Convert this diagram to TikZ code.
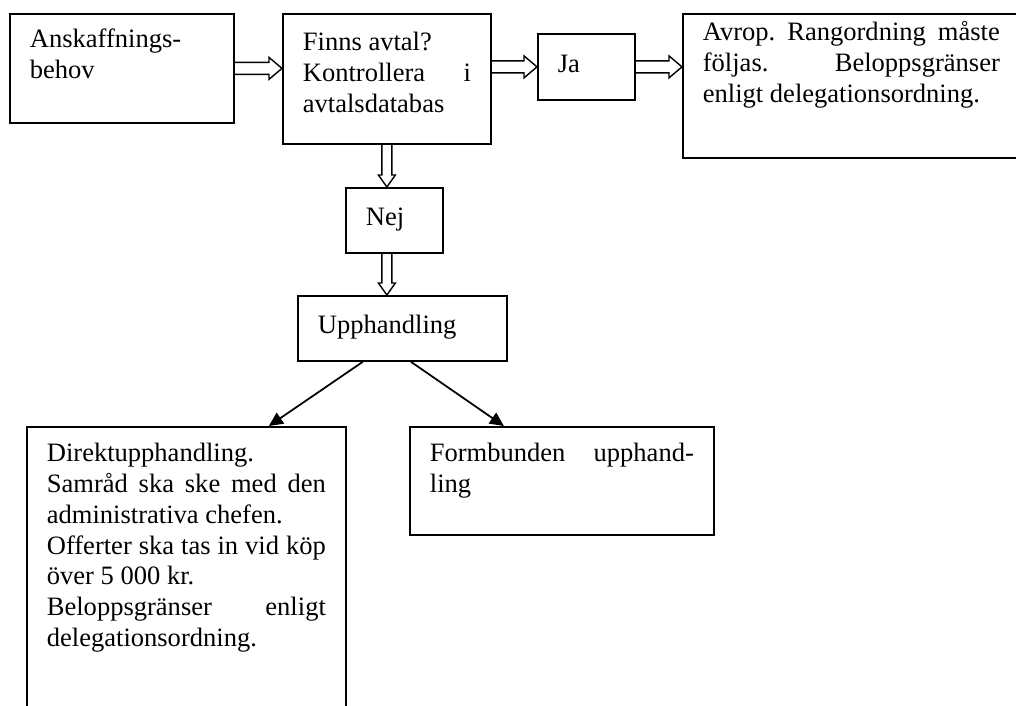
\documentclass[tikz,border=0pt]{standalone}
\usepackage{fontspec}
\setmainfont{Liberation Serif}
\usetikzlibrary{arrows.meta, calc}

\tikzset{
  box/.style={draw, line width=1pt, anchor=north west, inner xsep=0.4cm, inner ysep=0pt, align=justify},
  harrow/.style={line width=0.8pt, to path={
      ($(\tikztostart)+(0,0.12)$) -- ($(\tikztotarget)+(-0.26,0.12)$) -- ($(\tikztotarget)+(-0.26,0.22)$)
      -- (\tikztotarget) -- ($(\tikztotarget)+(-0.26,-0.22)$) -- ($(\tikztotarget)+(-0.26,-0.12)$)
      -- ($(\tikztostart)+(0,-0.12)$)}},
  varrow/.style={line width=0.8pt, to path={
      ($(\tikztostart)+(-0.1,0)$) -- ($(\tikztotarget)+(-0.1,0.24)$) -- ($(\tikztotarget)+(-0.17,0.24)$)
      -- (\tikztotarget) -- ($(\tikztotarget)+(0.17,0.24)$) -- ($(\tikztotarget)+(0.1,0.24)$)
      -- ($(\tikztostart)+(0.1,0)$)}},
  link/.style={line width=1pt, -{Triangle[length=0.28cm, width=0.26cm]}}
}

\begin{document}
\begin{tikzpicture}[font=\fontsize{15.1pt}{17.5pt}\selectfont\frenchspacing]
    \clip (0,0) rectangle (20.32,-14.12);

    % Top row
    \node[box, text width=3.68cm, text height=0.68cm, text depth=1.5cm] (anskaff) at (0.18,-0.26) {Anskaffnings-\\behov};
    \node[box, text width=3.36cm, text height=0.74cm, text depth=1.86cm] (avtal) at (5.64,-0.26) {Finns avtal?\\Kontrollera i\linebreak avtalsdatabas};
    \node[box, text width=1.14cm, text height=0.77cm, text depth=0.55cm] (ja) at (10.74,-0.66) {Ja};
    \node[box, text width=5.94cm, text height=0.54cm, text depth=2.34cm] (avrop) at (13.64,-0.26) {Avrop. Rangordning måste\linebreak följas. Beloppsgränser\linebreak enligt delegationsordning.};

    % Middle column
    \node[box, text width=1.14cm, text height=0.76cm, text depth=0.54cm] (nej) at (6.90,-3.74) {Nej};
    \node[box, text width=3.38cm, text height=0.76cm, text depth=0.54cm] (upph) at (5.94,-5.90) {Upphandling};

    % Bottom row
    \node[box, text width=5.58cm, text height=0.70cm, text depth=6.0cm] (direkt) at (0.52,-8.52) {Direktupphandling.\\Samråd ska ske med den\linebreak administrativa chefen.\\Offerter ska tas in vid köp\linebreak över 5~000 kr.\\Beloppsgränser enligt\linebreak delegationsordning.};
    \node[box, text width=5.28cm, text height=0.70cm, text depth=1.46cm] (formb) at (8.18,-8.52) {Formbunden upphand-\linebreak ling};

    % Hollow arrows
    \draw[harrow] (anskaff.east) to (anskaff.east -| avtal.west);
    \draw[harrow] (ja.west -| avtal.east) to (ja.west);
    \draw[harrow] (ja.east) to (ja.east -| avrop.west);
    \draw[varrow] (avtal.south) to (avtal.south |- nej.north);
    \draw[varrow] (nej.south -| avtal.south) to (upph.north -| avtal.south);

    % Split
    \coordinate (l-start) at ($(upph.south)+(-0.79,0)$);
    \coordinate (r-start) at ($(upph.south)+(0.17,0)$);
    \coordinate (l-end) at ($(direkt.north)+(1.65,0)$);
    \coordinate (r-end) at ($(formb.north)+(-1.16,0)$);
    \draw[link] (l-start) -- (l-end);
    \draw[link] (r-start) -- (r-end);
\end{tikzpicture}
\end{document}
